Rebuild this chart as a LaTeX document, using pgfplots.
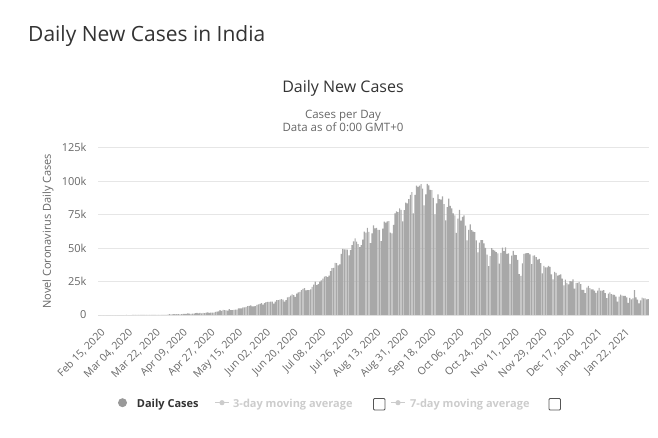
\documentclass[border=0pt]{standalone}
\usepackage{fontspec}
\setmainfont{Open Sans}
\usepackage{pgfplots}
\usepackage{pgfplotstable}
\pgfplotsset{compat=1.18}
\definecolor{bargray}{HTML}{A8A8A8}
\definecolor{gridgray}{HTML}{E6E6E6}
\definecolor{labgray}{HTML}{666666}
\definecolor{titlecol}{HTML}{333333}
\definecolor{inactive}{HTML}{CCCCCC}
\definecolor{legdot}{HTML}{999999}
\definecolor{boxcol}{HTML}{555555}
% daily new cases in thousands, Feb 15 2020 ... Feb 07 2021
\pgfplotstableread[row sep=\\]{
v\\
0\\0\\0\\0\\0\\0\\0\\0\\0\\0\\0\\0\\0\\0\\0\\
0\\0.002\\0.001\\0.022\\0.001\\0.002\\0.001\\0.003\\0.005\\0.004\\0.01\\0.012\\0.012\\0.017\\0.007\\0.023\\0.012\\0.028\\0.024\\0.06\\0.05\\0.075\\0.08\\0.1\\0.08\\0.09\\0.08\\0.15\\0.15\\0.1\\0.23\\
0.60\\0.48\\0.56\\0.58\\0.49\\0.57\\0.57\\0.54\\0.59\\0.89\\0.76\\0.92\\1.25\\1.03\\0.88\\1.06\\1.00\\1.33\\1.55\\1.24\\1.54\\1.29\\1.66\\1.41\\1.84\\1.98\\1.56\\1.86\\1.80\\1.73\\
2.40\\2.56\\2.64\\3.61\\3.14\\3.88\\3.62\\3.47\\3.28\\4.35\\3.60\\3.55\\3.76\\3.94\\3.97\\4.99\\4.90\\5.03\\5.61\\5.61\\6.09\\6.65\\6.77\\7.11\\6.43\\6.39\\6.54\\7.47\\7.96\\8.36\\8.78\\
7.76\\8.82\\9.63\\9.85\\9.89\\9.97\\9.98\\8.44\\9.99\\11.16\\11.13\\11.46\\11.93\\11.50\\10.03\\11.14\\13.10\\13.59\\14.52\\15.40\\14.82\\13.56\\15.96\\16.92\\17.30\\18.55\\19.43\\20.03\\18.34\\18.60\\
18.6\\19.1\\20.9\\22.7\\24.9\\22.3\\23.1\\24.9\\25.8\\27.1\\28.6\\29.1\\28.2\\29.4\\32.7\\35.0\\35.1\\38.9\\38.7\\37.1\\37.7\\45.7\\49.3\\48.9\\49.0\\48.7\\44.5\\48.5\\52.1\\55.0\\57.1\\
54.7\\52.9\\50.6\\52.1\\56.3\\62.2\\61.5\\65.0\\62.1\\53.6\\60.9\\66.9\\64.6\\65.0\\63.5\\63.5\\55.1\\64.5\\69.7\\68.9\\69.9\\70.0\\61.4\\60.9\\67.2\\75.8\\77.3\\76.7\\79.5\\78.5\\69.9\\
78.2\\83.9\\83.3\\86.4\\89.7\\91.7\\75.8\\89.7\\96.6\\95.7\\96.6\\97.6\\94.4\\81.9\\90.1\\97.9\\96.7\\93.4\\93.2\\87.4\\75.1\\83.3\\90.0\\86.5\\86.1\\88.6\\82.8\\70.6\\80.5\\86.8\\
81.5\\79.5\\75.8\\74.4\\61.3\\72.0\\78.5\\70.5\\73.3\\74.4\\66.7\\55.7\\63.5\\67.7\\63.4\\62.2\\61.9\\55.7\\46.8\\54.0\\55.8\\55.8\\53.4\\50.1\\45.1\\36.5\\43.9\\49.9\\48.6\\48.1\\46.9\\
46.0\\38.3\\46.3\\50.2\\47.6\\50.4\\45.7\\45.9\\38.1\\44.3\\47.9\\44.9\\44.7\\41.1\\30.5\\29.2\\38.6\\45.6\\45.9\\46.2\\46.2\\45.2\\37.9\\44.4\\44.5\\43.1\\41.3\\41.8\\38.8\\31.1\\
36.6\\35.6\\35.6\\36.6\\36.0\\30.3\\26.6\\32.1\\31.5\\29.4\\30.0\\30.3\\27.1\\22.1\\26.4\\24.0\\22.9\\25.2\\25.1\\26.6\\19.6\\24.0\\23.9\\24.7\\23.1\\18.7\\18.7\\16.4\\20.5\\21.8\\20.0\\
19.1\\19.1\\18.2\\16.5\\18.1\\20.3\\18.1\\18.2\\18.6\\16.3\\12.6\\15.9\\16.9\\15.6\\15.2\\15.1\\13.8\\10.0\\13.8\\15.2\\14.5\\14.3\\14.3\\13.2\\9.1\\12.7\\11.7\\12.5\\18.6\\13.1\\11.4\\
8.6\\11.0\\12.9\\12.4\\12.4\\11.7\\11.8\\
}\casedata
\begin{document}
\begin{tikzpicture}[x=1pt,y=1pt]
\path (0,0) rectangle (658,437);
\node[anchor=base west, inner sep=0pt, font=\fontsize{21}{25}\selectfont, text=titlecol] at (28,395) {Daily New Cases in India};
\node[anchor=base, inner sep=0pt, font=\fontsize{16}{19}\selectfont, text=titlecol] at (343,344) {Daily New Cases};
\node[anchor=base, inner sep=0pt, font=\fontsize{11.5}{14}\selectfont, text=labgray] at (343,318) {Cases per Day};
\node[anchor=base, inner sep=0pt, font=\fontsize{11.5}{14}\selectfont, text=labgray] at (343,305.3) {Data as of 0:00 GMT+0};
\begin{axis}[
  at={(98pt,122pt)}, anchor=south west,
  scale only axis, width=551pt, height=167.5pt,
  xmin=-0.5, xmax=358.5, ymin=0, ymax=125,
  axis line style={draw=none},
  major tick length=0pt,
  ymajorgrids, grid style={draw=gridgray, line width=0.8pt},
  ytick={0,25,50,75,100,125},
  yticklabels={0,25k,50k,75k,100k,125k},
  xtick={0,18,...,342},
  xticklabels={{Feb 15, 2020},{Mar 04, 2020},{Mar 22, 2020},{Apr 09, 2020},{Apr 27, 2020},{May 15, 2020},{Jun 02, 2020},{Jun 20, 2020},{Jul 08, 2020},{Jul 26, 2020},{Aug 13, 2020},{Aug 31, 2020},{Sep 18, 2020},{Oct 06, 2020},{Oct 24, 2020},{Nov 11, 2020},{Nov 29, 2020},{Dec 17, 2020},{Jan 04, 2021},{Jan 22, 2021}},
  /pgf/number format/assume math mode=true,
  xticklabel style={rotate=45, anchor=east, inner sep=1pt, xshift=-7pt, yshift=-14.6pt, font=\fontsize{10.5}{12}\selectfont, text=labgray},
  yticklabel style={anchor=east, xshift=-8pt, font=\fontsize{11}{13}\selectfont, text=labgray},
  every axis y label/.style={at={(axis description cs:-0.0907,0.5)}, rotate=90, anchor=center, font=\fontsize{11}{13}\selectfont, text=labgray},
  ylabel={Novel Coronavirus Daily Cases},
]
\addplot[ybar, bar width=0.75, fill=bargray, draw=none] table[x expr=\coordindex, y=v] {\casedata};
\end{axis}
% legend
\fill[legdot] (122.5,34.3) circle (4.5);
\node[anchor=base west, inner sep=0pt, font=\bfseries\fontsize{11}{13}\selectfont, text=titlecol] at (136.7,30) {Daily Cases};
\draw[inactive, line width=1.2pt] (215,34.3) -- (229,34.3);
\fill[inactive] (222,34.3) circle (2.6);
\node[anchor=base west, inner sep=0pt, font=\bfseries\fontsize{11}{13}\selectfont, text=inactive] at (233,30) {3-day moving average};
\draw[boxcol, line width=0.8pt, rounded corners=1pt] (373.5,27) rectangle (385,38.5);
\draw[inactive, line width=1.2pt] (391,34.3) -- (405,34.3);
\fill[inactive] (398,34.3) circle (2.6);
\node[anchor=base west, inner sep=0pt, font=\bfseries\fontsize{11}{13}\selectfont, text=inactive] at (410,30) {7-day moving average};
\draw[boxcol, line width=0.8pt, rounded corners=1pt] (549,27) rectangle (560.5,38.5);
\end{tikzpicture}
\end{document}
